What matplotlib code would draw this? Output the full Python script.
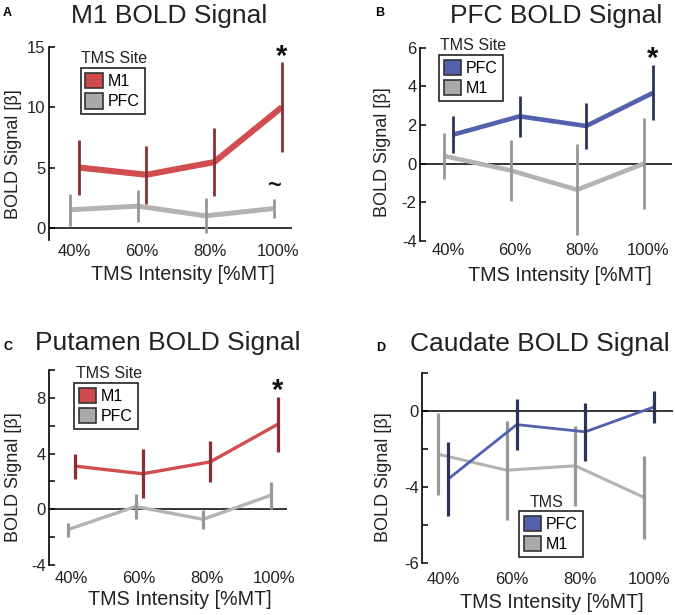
import matplotlib
matplotlib.use('Agg')
import matplotlib.pyplot as plt
from matplotlib.patches import Patch
import numpy as np

plt.rcParams['font.family'] = ['Liberation Sans', 'DejaVu Sans']
plt.rcParams['axes.unicode_minus'] = False

# ---------------- data ----------------
intensity_labels = ['40%', '60%', '80%', '100%']

# Panel A: M1 BOLD signal
a_m1_mean = [5.0, 4.4, 5.45, 10.0]
a_m1_err = [2.3, 2.4, 2.8, 3.7]
a_pfc_mean = [1.5, 1.8, 1.0, 1.6]
a_pfc_err = [1.3, 1.3, 1.45, 0.8]

# Panel B: PFC BOLD signal
b_pfc_mean = [1.5, 2.45, 1.95, 3.66]
b_pfc_err = [0.95, 1.05, 1.2, 1.42]
b_m1_mean = [0.4, -0.35, -1.35, 0.0]
b_m1_err = [1.2, 1.6, 2.35, 2.35]

# Panel C: Putamen BOLD signal
c_m1_mean = [3.1, 2.55, 3.4, 6.1]
c_m1_err = [0.9, 1.75, 1.47, 1.98]
c_pfc_mean = [-1.46, 0.2, -0.72, 1.0]
c_pfc_err = [0.5, 0.93, 0.7, 0.95]

# Panel D: Caudate BOLD signal
d_pfc_mean = [-3.57, -0.7, -1.08, 0.23]
d_pfc_err = [1.93, 1.36, 1.53, 0.86]
d_m1_mean = [-2.26, -3.1, -2.87, -4.53]
d_m1_err = [2.15, 2.6, 2.1, 2.18]

# ---------------- style ----------------
RED_LINE, RED_ERR, RED_PATCH = '#d14d50', '#8c2c33', '#d04a4c'
GRAY_LINE, GRAY_ERR, GRAY_PATCH = '#b3b3b3', '#979797', '#a9a9a9'
BLUE_LINE, BLUE_ERR, BLUE_PATCH = '#5161ad', '#2b3357', '#5262ad'

W, H = 675, 615
fig = plt.figure(figsize=(W / 100, H / 100), dpi=100)


def px_axes(left, top, right, bottom):
    return fig.add_axes([left / W, 1 - bottom / H, (right - left) / W, (bottom - top) / H])


def fig_text(x, y, s, **kw):
    fig.text(x / W, 1 - y / H, s, **kw)


panels = [
    dict(letter='A', title='M1 BOLD Signal',
         rect=(49, 46.7, 292, 240), ylim=(-1, 15), xlim=(-0.376, 3.21),
         yticks=[15, 10, 5, 0], yticklabels=['15', '10', '5', '0'],
         primary=(a_m1_mean, a_m1_err, RED_LINE, RED_ERR, RED_PATCH, 'M1'),
         secondary=(a_pfc_mean, a_pfc_err, 'PFC'),
         off=0.062, plw=4.4, slw=3.6, elw=2.0, xpad=3.2,
         letter_xy=(3, 16), title_xy=(169, 23), xlabel_xy=(183, 280), ylabel_xy=(14, 154),
         leg_xy=(80.7, 68.3), legtitle='TMS Site', legtitle_xy=(114, 63.3),
         star=(3, 13.5), tilde=(3, 3.0)),
    dict(letter='B', title='PFC BOLD Signal',
         rect=(420, 47.7, 672, 241), ylim=(-4, 6), xlim=(-0.428, 3.356),
         yticks=[6, 4, 2, 0, -2, -4], yticklabels=['6', '4', '2', '0', '-2', '-4'],
         primary=(b_pfc_mean, b_pfc_err, BLUE_LINE, BLUE_ERR, BLUE_PATCH, 'PFC'),
         secondary=(b_m1_mean, b_m1_err, 'M1'),
         off=0.068, plw=3.3, slw=3.3, elw=2.0, xpad=1.5,
         letter_xy=(375, 16), title_xy=(556, 23), xlabel_xy=(560, 281), ylabel_xy=(383, 152),
         leg_xy=(439, 55), legtitle='TMS Site', legtitle_xy=(473, 50.5),
         star=(3, 5.0), tilde=None),
    dict(letter='C', title='Putamen BOLD Signal',
         rect=(49, 370, 287, 565), ylim=(-4, 10), xlim=(-0.333, 3.19),
         yticks=[10, 8, 6, 4, 2, 0, -2, -4], yticklabels=['', '8', '', '4', '', '0', '', '-4'],
         primary=(c_m1_mean, c_m1_err, RED_LINE, RED_ERR, RED_PATCH, 'M1'),
         secondary=(c_pfc_mean, c_pfc_err, 'PFC'),
         off=0.052, plw=2.4, slw=2.4, elw=2.3, xpad=4.3,
         letter_xy=(4, 350), title_xy=(168, 350), xlabel_xy=(180, 605), ylabel_xy=(13, 477),
         leg_xy=(74, 383), legtitle='TMS Site', legtitle_xy=(109, 378.3),
         star=(3, 7.9), tilde=None),
    dict(letter='D', title='Caudate BOLD Signal',
         rect=(422, 373.3, 673, 563.3), ylim=(-8, 2), xlim=(-0.307, 3.35),
         yticks=[2, 0, -2, -4, -6, -8], yticklabels=['', '0', '', '-4', '', '-6'],
         primary=(d_pfc_mean, d_pfc_err, BLUE_LINE, BLUE_ERR, BLUE_PATCH, 'PFC'),
         secondary=(d_m1_mean, d_m1_err, 'M1'),
         off=0.073, plw=2.0, slw=2.2, elw=2.3, xpad=6.4,
         letter_xy=(376, 351), title_xy=(540, 351), xlabel_xy=(552, 608), ylabel_xy=(384, 477),
         leg_xy=(519, 511), legtitle='TMS', legtitle_xy=(547, 507.3),
         star=None, tilde=None),
]

x = np.arange(len(intensity_labels))

for p in panels:
    ax = px_axes(*p['rect'])
    ax.set_xlim(*p['xlim'])
    ax.set_ylim(*p['ylim'])
    for s in ['top', 'right', 'bottom']:
        ax.spines[s].set_visible(False)
    ax.spines['left'].set_linewidth(1.2)
    ax.axhline(0, color='black', lw=1.1, zorder=1)

    smean, serr, slabel = p['secondary']
    pmean, perr, pline, perrc, ppatch, plabel = p['primary']
    xs = x - p['off']
    xp = x + p['off']

    ax.plot(xs, smean, color=GRAY_LINE, lw=p['slw'], solid_capstyle='butt', zorder=2)
    ax.errorbar(xs, smean, yerr=serr, fmt='none', ecolor=GRAY_ERR, elinewidth=p['elw'],
                capsize=0, zorder=3)
    ax.plot(xp, pmean, color=pline, lw=p['plw'], solid_capstyle='butt', zorder=4)
    ax.errorbar(xp, pmean, yerr=perr, fmt='none', ecolor=perrc, elinewidth=p['elw'],
                capsize=0, zorder=5)

    ax.set_xticks(x)
    ax.set_xticklabels(intensity_labels, fontsize=12, color='#222222')
    ax.tick_params(axis='x', length=0, pad=p['xpad'])
    ax.set_yticks(p['yticks'])
    ax.set_yticklabels(p['yticklabels'], fontsize=12, color='#222222')
    ax.tick_params(axis='y', direction='in', length=4, width=1.1, pad=2.5)

    if p['star'] is not None:
        sx, sy = p['star']
        ax.text(sx + p['off'], sy, '*', fontsize=21, fontweight='bold', ha='center',
                va='baseline', color='#111111')
    if p['tilde'] is not None:
        tx, ty = p['tilde']
        ax.text(tx - p['off'], ty, '~', fontsize=17, fontweight='bold', ha='center',
                va='baseline', color='#111111')

    handles = [Patch(facecolor=ppatch, edgecolor='#333333', linewidth=1.2),
               Patch(facecolor=GRAY_PATCH, edgecolor='#333333', linewidth=1.2)]
    lx, ly = p['leg_xy']
    leg = ax.legend(handles, [plabel, slabel], loc='upper left',
                    bbox_to_anchor=(lx / W, 1 - ly / H), bbox_transform=fig.transFigure,
                    borderaxespad=0, frameon=True, fancybox=False, edgecolor='#222222',
                    framealpha=1, fontsize=11.5, handlelength=1.1, handleheight=1.1,
                    handletextpad=0.3, borderpad=0.3, labelspacing=0.25)
    leg.get_frame().set_linewidth(1.2)
    tx, ty = p['legtitle_xy']
    fig_text(tx, ty, p['legtitle'], fontsize=11.5, ha='center', va='baseline', color='#222222')

    fig_text(*p['letter_xy'], p['letter'], fontsize=9, fontweight='bold', ha='left', va='baseline')
    fig_text(*p['title_xy'], p['title'], fontsize=19, ha='center', va='baseline', color='#222222')
    fig_text(*p['xlabel_xy'], 'TMS Intensity [%MT]', fontsize=14.2, ha='center', va='baseline',
             color='#222222')
    fig_text(*p['ylabel_xy'], 'BOLD Signal [β]', fontsize=13, ha='center', va='center',
             rotation=90, color='#222222')

fig.savefig('out.png', dpi=100)
